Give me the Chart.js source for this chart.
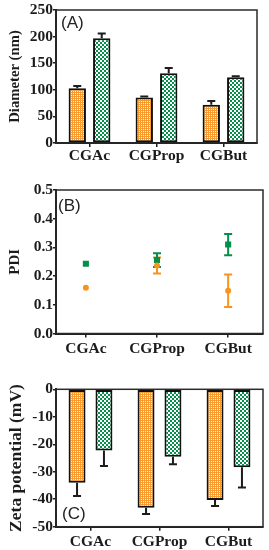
<!DOCTYPE html>
<html><head><meta charset="utf-8">
<script src="https://cdn.jsdelivr.net/npm/chart.js@4/dist/chart.umd.min.js"></script>
<style>
html,body{margin:0;padding:0;background:#fff;}
#wrap{position:relative;width:269px;height:550px;overflow:hidden;background:#fff;}
canvas{position:absolute;left:0;}
.pl{position:absolute;font-family:"Liberation Sans",Arial,sans-serif;font-size:17px;color:#222;line-height:17px;white-space:nowrap;}
</style></head><body>
<div id="wrap">
<canvas id="cA" width="269" height="180" style="top:0px;width:269px;height:180px"></canvas>
<canvas id="cB" width="269" height="180" style="top:180px;width:269px;height:180px"></canvas>
<canvas id="cC" width="269" height="190" style="top:360px;width:269px;height:190px"></canvas>
<div class="pl" style="left:61px;top:14px">(A)</div>
<div class="pl" style="left:58px;top:197px">(B)</div>
<div class="pl" style="left:62px;top:505px">(C)</div>
</div>
<script>
// ---- data ----
const categories = ['CGAc', 'CGProp', 'CGBut'];
const diameterOrange = [103, 85.5, 72];
const diameterOrangeErr = [4, 2, 7];
const diameterGreen = [197, 131, 123.5];
const diameterGreenErr = [9, 10, 2];
const diameterTicks = [0, 50, 100, 150, 200, 250];

const pdiOrange = [0.159, 0.237, 0.149];
const pdiOrangeErr = [0, 0.028, 0.057];
const pdiGreen = [0.243, 0.256, 0.31];
const pdiGreenErr = [0, 0.024, 0.037];
const pdiTicks = [0.0, 0.1, 0.2, 0.3, 0.4, 0.5];

const zetaOrange = [-34, -43.1, -40.3];
const zetaOrangeErr = [4.8, 2.3, 2.2];
const zetaGreen = [-22.3, -24.5, -28.4];
const zetaGreenErr = [5.6, 2.8, 7.3];
const zetaTicks = [-50, -40, -30, -20, -10, 0];

// ---- styles ----
const ORANGE = '#f8931c';
const GREEN = '#058f4a';
const INK = '#1c1c1c';
const serifFam = '"Liberation Serif","Times New Roman",serif';
const serif = {family: serifFam, weight: 'bold', size: 15.5};

function orangePattern() {
  const p = document.createElement('canvas');
  p.width = 2; p.height = 2;
  const g = p.getContext('2d');
  g.fillStyle = '#f99a2c'; g.fillRect(0, 0, 2, 2);
  g.fillStyle = '#fff1de'; g.fillRect(1, 1, 1, 1);
  return g.createPattern(p, 'repeat');
}
function greenPattern() {
  const p = document.createElement('canvas');
  p.width = 4; p.height = 4;
  const g = p.getContext('2d');
  g.fillStyle = GREEN; g.fillRect(0, 0, 4, 4);
  g.fillStyle = '#ffffff'; g.fillRect(0, 0, 2, 2); g.fillRect(2, 2, 2, 2);
  return g.createPattern(p, 'repeat');
}
const orangePat = orangePattern();
const greenPat = greenPattern();

const errorBarPlugin = {
  id: 'errbars',
  draw(chart, under) {
    const ctx = chart.ctx, ys = chart.scales.y;
    chart.data.datasets.forEach((ds, di) => {
      if (!ds.errors) return;
      if (!!ds.errUnder !== under) return;
      const meta = chart.getDatasetMeta(di);
      meta.data.forEach((el, i) => {
        const raw = ds.data[i];
        const v = typeof raw === 'object' ? raw.y : raw;
        const e = ds.errors[i];
        if (!e) return;
        const x = el.x;
        const cap = ds.capHalf || 4;
        ctx.save();
        ctx.strokeStyle = ds.errColor || INK;
        ctx.lineWidth = 2;
        ctx.beginPath();
        if (ds.errBoth) {
          const y1 = ys.getPixelForValue(v - e), y2 = ys.getPixelForValue(v + e);
          ctx.moveTo(x, y1); ctx.lineTo(x, y2);
          ctx.moveTo(x - cap, y1); ctx.lineTo(x + cap, y1);
          ctx.moveTo(x - cap, y2); ctx.lineTo(x + cap, y2);
        } else {
          const dir = v < 0 ? -1 : 1;
          const y1 = ys.getPixelForValue(v), y2 = ys.getPixelForValue(v + dir * e);
          ctx.moveTo(x, y1); ctx.lineTo(x, y2);
          ctx.moveTo(x - cap, y2); ctx.lineTo(x + cap, y2);
        }
        ctx.stroke();
        ctx.restore();
      });
    });
  },
  beforeDatasetsDraw(chart) { this.draw(chart, true); },
  afterDatasetsDraw(chart) { this.draw(chart, false); }
};

const boxPlugin = {
  id: 'box',
  afterDraw(chart) {
    const a = chart.chartArea, ctx = chart.ctx;
    ctx.save();
    ctx.strokeStyle = '#2a2a2a';
    ctx.lineWidth = 1.5;
    ctx.strokeRect(a.left, a.top, a.right - a.left, a.bottom - a.top);
    ctx.restore();
  }
};

function yScale(tickArr, title, fmt, titleSize) {
  return {
    min: tickArr[0], max: tickArr[tickArr.length - 1],
    afterFit: s => { s.width = 56; },
    afterBuildTicks: s => { s.ticks = tickArr.map(v => ({value: v})); },
    ticks: {font: serif, color: INK, padding: 0, callback: fmt},
    grid: {drawOnChartArea: false, tickLength: 3, color: INK, lineWidth: 1.5},
    border: {color: INK, width: 2},
    title: {display: true, text: title, color: INK,
      font: {family: serifFam, weight: 'bold', size: titleSize},
      padding: {top: 6, bottom: 0}}
  };
}
function xCat(h, pad) {
  return {
    type: 'category', offset: true,
    afterFit: s => { s.height = h; },
    ticks: {font: serif, color: INK, padding: pad, maxRotation: 0, autoSkip: false},
    grid: {offset: false, drawOnChartArea: false, tickLength: 4, color: INK, lineWidth: 1.5},
    border: {color: INK, width: 2}
  };
}
const common = {
  responsive: false, animation: false, devicePixelRatio: 1,
  plugins: {legend: {display: false}, tooltip: {enabled: false}}
};
const barStyle = {borderColor: '#111', borderWidth: 2, borderSkipped: false};

// Panel A
new Chart(document.getElementById('cA'), {
  type: 'bar',
  data: {
    labels: categories,
    datasets: [
      Object.assign({data: diameterOrange, errors: diameterOrangeErr, backgroundColor: orangePat, categoryPercentage: 0.73, barPercentage: 0.71}, barStyle),
      Object.assign({data: diameterGreen, errors: diameterGreenErr, backgroundColor: greenPat, categoryPercentage: 0.73, barPercentage: 0.71}, barStyle)
    ]
  },
  options: Object.assign({}, common, {
    layout: {padding: {left: 0, top: 10, right: 12, bottom: 0}},
    scales: {
      x: xCat(37, 0),
      y: yScale(diameterTicks, 'Diameter (nm)', v => String(v), 14.7)
    }
  }),
  plugins: [errorBarPlugin, boxPlugin]
});

// Panel B
new Chart(document.getElementById('cB'), {
  type: 'scatter',
  data: {
    datasets: [
      {data: pdiOrange.map((v, i) => ({x: i, y: v})), errors: pdiOrangeErr, errBoth: true, errUnder: true, errColor: ORANGE, capHalf: 4,
        pointStyle: 'circle', pointRadius: 3, backgroundColor: ORANGE, borderColor: ORANGE, borderWidth: 0},
      {data: pdiGreen.map((v, i) => ({x: i, y: v})), errors: pdiGreenErr, errBoth: true, errUnder: true, errColor: GREEN, capHalf: 4,
        pointStyle: 'rect', pointRadius: 4.3, backgroundColor: GREEN, borderColor: GREEN, borderWidth: 0}
    ]
  },
  options: Object.assign({}, common, {
    layout: {padding: {left: 0, top: 10, right: 6, bottom: 0}},
    scales: {
      x: {
        type: 'linear', min: -0.42, max: 2.49,
        afterFit: s => { s.height = 26.5; },
        afterBuildTicks: s => { s.ticks = categories.map((c, i) => ({value: i})); },
        ticks: {font: serif, color: INK, padding: 2, maxRotation: 0, autoSkip: false, callback: v => categories[v]},
        grid: {drawOnChartArea: false, tickLength: 4, color: INK, lineWidth: 1.5},
        border: {color: INK, width: 2}
      },
      y: yScale(pdiTicks, 'PDI', v => v.toFixed(1), 15)
    }
  }),
  plugins: [errorBarPlugin, boxPlugin]
});

// Panel C
new Chart(document.getElementById('cC'), {
  type: 'bar',
  data: {
    labels: categories,
    datasets: [
      Object.assign({data: zetaOrange, errors: zetaOrangeErr, backgroundColor: orangePat, categoryPercentage: 0.78, barPercentage: 0.63}, barStyle),
      Object.assign({data: zetaGreen, errors: zetaGreenErr, backgroundColor: greenPat, categoryPercentage: 0.78, barPercentage: 0.63}, barStyle)
    ]
  },
  options: Object.assign({}, common, {
    layout: {padding: {left: 0, top: 29.3, right: 6, bottom: 0}},
    scales: {
      x: xCat(23.3, 2),
      y: yScale(zetaTicks, 'Zeta potential (mV)', v => String(v), 17.5)
    }
  }),
  plugins: [errorBarPlugin, boxPlugin]
});
</script>
</body></html>
